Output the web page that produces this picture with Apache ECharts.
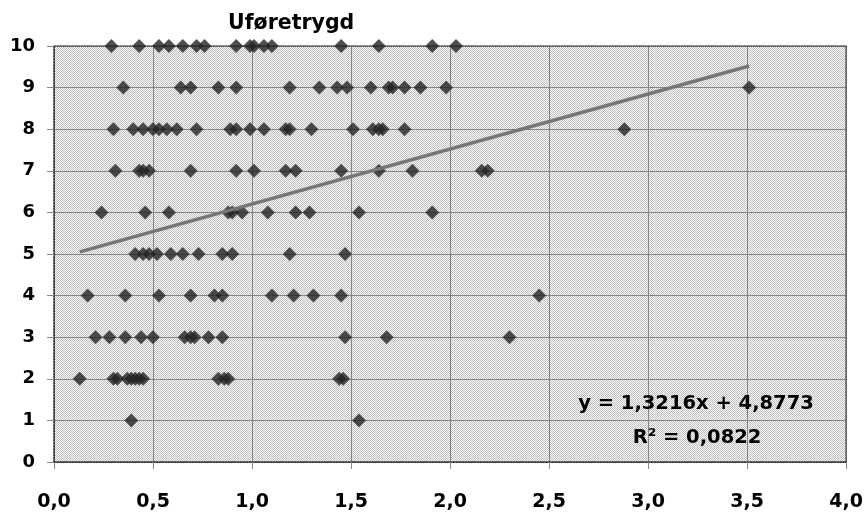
<!DOCTYPE html>
<html><head><meta charset="utf-8">
<script src="https://cdn.jsdelivr.net/npm/echarts@6/dist/echarts.min.js"></script>
<style>html,body{margin:0;padding:0;background:#fff}#c{width:866px;height:517px}</style>
</head><body><div id="c"></div>
<script>
const chartTitle = 'Uføretrygd';
const xTickLabels = ['0,0','0,5','1,0','1,5','2,0','2,5','3,0','3,5','4,0'];
const yTickLabels = ['0','1','2','3','4','5','6','7','8','9','10'];
const eqLines = ['y = 1,3216x + 4,8773', 'R² = 0,0822'];

// x-values for each score (y = score)
const score10 = [0.29,0.43,0.53,0.58,0.65,0.72,0.76,0.92,0.99,1.01,1.06,1.10,1.45,1.64,1.91,2.03];
const score9  = [0.35,0.64,0.69,0.83,0.92,1.19,1.34,1.43,1.48,1.60,1.69,1.71,1.77,1.85,1.98,3.51];
const score8  = [0.30,0.40,0.45,0.50,0.53,0.57,0.62,0.72,0.89,0.92,0.99,1.06,1.17,1.19,1.30,1.51,1.61,1.64,1.66,1.77,2.88];
const score7  = [0.31,0.43,0.45,0.48,0.69,0.92,1.01,1.17,1.22,1.45,1.64,1.81,2.16,2.19];
const score6  = [0.24,0.46,0.58,0.88,0.90,0.95,1.08,1.22,1.29,1.54,1.91];
const score5  = [0.41,0.45,0.48,0.52,0.59,0.65,0.73,0.85,0.90,1.19,1.47];
const score4  = [0.17,0.36,0.53,0.69,0.81,0.85,1.10,1.21,1.31,1.45,2.45];
const score3  = [0.21,0.28,0.36,0.44,0.50,0.66,0.69,0.71,0.78,0.85,1.47,1.68,2.30];
const score2  = [0.13,0.30,0.32,0.37,0.39,0.41,0.43,0.45,0.83,0.86,0.88,1.44,1.46];
const score1  = [0.39,1.54];
const trendX = [0.13, 3.51];
const trendY = [5.05, 9.52];

const rows = {10:score10,9:score9,8:score8,7:score7,6:score6,5:score5,4:score4,3:score3,2:score2,1:score1};
const points = [];
Object.keys(rows).forEach(k => rows[k].forEach(x => points.push([x, Number(k)])));
const trend = trendX.map((x,i) => [x, trendY[i]]);

// dithered plot background
const pc = document.createElement('canvas');
pc.width = 2; pc.height = 2;
const pctx = pc.getContext('2d');
pctx.fillStyle = '#f8f8f8'; pctx.fillRect(0,0,2,2);
pctx.fillStyle = '#c0c0c0'; pctx.fillRect(0,0,1,1); pctx.fillRect(1,1,1,1);

const FONT = 'DejaVu Sans';
const chart = echarts.init(document.getElementById('c'), null, {renderer:'canvas'});
chart.setOption({
  animation: false,
  backgroundColor: '#ffffff',
  title: {
    text: chartTitle, left: 228, top: 13, padding: 0,
    textStyle: {fontFamily: FONT, fontWeight: 'bold', fontSize: 20.5, lineHeight: 21, color: '#000'}
  },
  grid: {
    left: 54, right: 19, top: 46, bottom: 55, show: true,
    backgroundColor: {image: pc, repeat: 'repeat'}, borderWidth: 0
  },
  xAxis: [{
    type: 'value', min: 0, max: 4, interval: 0.5,
    axisLine: {show: true, onZero: false, lineStyle: {color: '#222', width: 1.5, type: 'dotted'}},
    axisTick: {show: true, length: 7, lineStyle: {color: '#888'}},
    splitLine: {show: true, lineStyle: {color: '#858585', width: 1}},
    axisLabel: {
      margin: 30, color: '#000', fontFamily: FONT, fontWeight: 'bold', fontSize: 19, lineHeight: 20,
      formatter: v => xTickLabels[Math.round(v / 0.5)]
    }
  }, {
    type: 'value', position: 'top', min: 0, max: 4,
    axisLine: {show: true, onZero: false, lineStyle: {color: '#555', width: 1.5, type: 'dotted'}},
    axisTick: {show: false}, axisLabel: {show: false}, splitLine: {show: false}
  }],
  yAxis: [{
    type: 'value', min: 0, max: 10, interval: 1,
    axisLine: {show: true, onZero: false, lineStyle: {color: '#222', width: 1.5, type: 'dotted'}},
    axisTick: {show: true, length: 7, lineStyle: {color: '#888'}},
    splitLine: {show: true, lineStyle: {color: '#858585', width: 1}},
    axisLabel: {
      margin: 19, color: '#000', fontFamily: FONT, fontWeight: 'bold', fontSize: 18,
      formatter: v => yTickLabels[Math.round(v)]
    }
  }, {
    type: 'value', position: 'right', min: 0, max: 10,
    axisLine: {show: true, onZero: false, lineStyle: {color: '#555', width: 1.5, type: 'dotted'}},
    axisTick: {show: false}, axisLabel: {show: false}, splitLine: {show: false}
  }],
  series: [{
    type: 'scatter', xAxisIndex: 0, yAxisIndex: 0,
    symbol: 'diamond', symbolSize: 13.5,
    itemStyle: {color: '#222', borderColor: '#444', borderWidth: 0.5},
    data: points, z: 2
  }, {
    type: 'line', xAxisIndex: 0, yAxisIndex: 0,
    data: trend, showSymbol: false, symbol: 'none',
    lineStyle: {color: '#767676', width: 3.5}, z: 3
  }],
  graphic: [{
    type: 'text', x: 696, y: 404, z: 10,
    style: {text: eqLines[0], fill: '#000', font: 'bold 19.5px "DejaVu Sans"', textAlign: 'center', textVerticalAlign: 'middle', verticalAlign: 'middle'}
  }, {
    type: 'text', x: 697, y: 438, z: 10,
    style: {text: eqLines[1], fill: '#000', font: 'bold 19.5px "DejaVu Sans"', textAlign: 'center', textVerticalAlign: 'middle', verticalAlign: 'middle'}
  }]
});
</script>
</body></html>
